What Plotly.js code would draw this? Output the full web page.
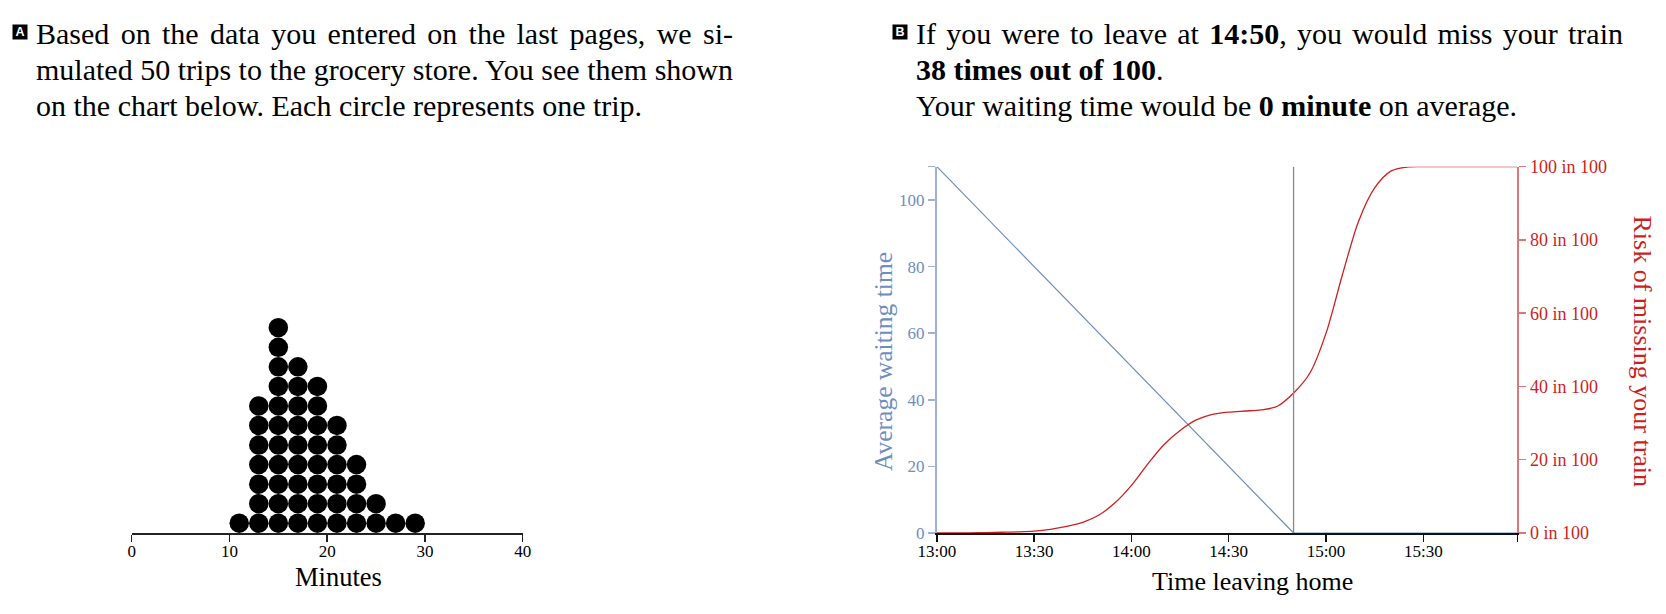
<!DOCTYPE html>
<html>
<head>
<meta charset="utf-8">
<script src="https://cdn.plot.ly/plotly-3.0.1.min.js"></script>
<style>
  html, body { margin: 0; padding: 0; background: #fff; }
  #chart { width: 1666px; height: 614px; }
</style>
</head>
<body>
<div id="chart"></div>
<script>
// ---------- DATA ----------
// Panel A: simulated trips (dot plot), bins of 2 minutes
const binCenters = [11, 13, 15, 17, 19, 21, 23, 25, 27, 29];
const tripCounts = [1, 7, 11, 9, 8, 6, 4, 2, 1, 1];
const binWidth = 2;
const minuteTicks = [0, 10, 20, 30, 40];

// Panel B: risk of missing the train vs time leaving home
const riskTimes = ['13:00','13:05','13:10','13:15','13:20','13:25','13:30','13:35','13:40','13:45',
                   '13:50','13:55','14:00','14:05','14:10','14:15','14:20','14:25','14:30','14:35',
                   '14:40','14:45','14:50','14:55','15:00','15:05','15:10','15:15','15:20','15:25',
                   '15:30','15:35','15:40','15:45','15:50','15:55','15:59'];
const riskValues = [0, 0, 0.05, 0.1, 0.2, 0.3, 0.5, 1.0, 1.8, 2.9,
                    4.9, 8.3, 13.0, 18.8, 24.1, 28.0, 30.9, 32.4, 33.0, 33.3,
                    33.6, 34.6, 38.2, 43.6, 54.5, 70.3, 85.0, 94.2, 98.8, 99.9,
                    100, 100, 100, 100, 100, 100, 100];

// Average waiting time (minutes)
const waitTimes = ['13:00', '14:50', '15:59'];
const waitValues = [110, 0, 0];

const leaveTime = '14:50';
const axisStart = '13:00';
const axisEnd = '15:59';
const timeTicks = ['13:00', '13:30', '14:00', '14:30', '15:00', '15:30'];
const waitTicks = [0, 20, 40, 60, 80, 100];
const waitMax = 110;
const riskTicks = [0, 20, 40, 60, 80, 100];

// Paragraph texts (one entry per printed line)
const textA = [
  'Based on the data you entered on the last pages, we si-',
  'mulated 50 trips to the grocery store. You see them shown',
  'on the chart below. Each circle represents one trip.'
];
const textB = [
  'If you were to leave at <b>14:50</b>, you would miss your train',
  '<b>38 times out of 100</b>.',
  'Your waiting time would be <b>0 minute</b> on average.'
];

// ---------- BUILD ----------
const W = 1666, H = 614;
const px = v => v / W;
const py = v => 1 - v / H;
const day = t => '2000-01-01 ' + t + ':00';

const dotX = [], dotY = [];
binCenters.forEach((c, i) => {
  for (let k = 0; k < tripCounts[i]; k++) {
    dotX.push(c);
    dotY.push(binWidth / 2 + k * binWidth);
  }
});

const serif = 'Liberation Serif, Times New Roman, serif';
const blue = '#6f8dbf';
const blueAxis = '#9db2d6';
const red = '#cc1f1f';
const redAxis = '#d9777a';

const plotTop = 166.7, plotBottom = 533;
const xA0 = 131.7, xA1 = 522.7;
const xB0 = 936.9, xB1 = 1517.3;
const yDom = [py(plotBottom), py(plotTop)];
const dotYMax = (plotBottom - plotTop) / ((xA1 - xA0) / 40);

const traces = [
  {
    x: dotX, y: dotY, xaxis: 'x', yaxis: 'y', type: 'scatter', mode: 'markers',
    marker: { color: '#000', size: 19.5, line: { width: 0 } },
    hoverinfo: 'skip', showlegend: false
  },
  {
    x: waitTimes.map(day), y: waitValues, xaxis: 'x2', yaxis: 'y2', type: 'scatter', mode: 'lines',
    line: { color: blue, width: 1.2 }, hoverinfo: 'skip', showlegend: false
  },
  {
    x: riskTimes.map(day), y: riskValues, xaxis: 'x2', yaxis: 'y3', type: 'scatter', mode: 'lines',
    line: { color: red, width: 1.3, shape: 'spline', smoothing: 0.8 }, hoverinfo: 'skip', showlegend: false
  }
];

const tickFont = { family: serif, size: 17, color: '#000' };

// paragraph annotations
const paraSize = 30;
const lineGap = 36;
const firstLineY = 33.5;
const justifyTargets = {};
const annotations = [];

function addParagraph(letter, boxX, textX, lines, rightEdge, justifiedLines) {
  annotations.push({
    text: letter, xref: 'paper', yref: 'paper', x: px(boxX), y: py(31.5), xanchor: 'center', yanchor: 'middle',
    showarrow: false, bgcolor: '#000', width: 14, height: 14, borderpad: 0,
    font: { family: 'Liberation Sans, Arial, sans-serif', size: 12.5, color: '#fff', weight: 'bold' }
  });
  lines.forEach((ln, i) => {
    annotations.push({
      text: ln, xref: 'paper', yref: 'paper', x: px(textX - 2), y: py(firstLineY + i * lineGap),
      xanchor: 'left', yanchor: 'middle', align: 'left', showarrow: false,
      font: { family: serif, size: paraSize, color: '#000' }
    });
    if (i < justifiedLines) justifyTargets[ln.replace(/<[^>]+>/g, '')] = rightEdge - textX;
  });
}
addParagraph('A', 19.5, 36, textA, 733, 2);
addParagraph('B', 899.5, 916, textB, 1623, 1);

annotations.push(
  { text: 'Minutes', xref: 'paper', yref: 'paper', x: px(338.3), y: py(576.7), xanchor: 'center', yanchor: 'middle',
    showarrow: false, font: { family: serif, size: 26.5, color: '#000' } },
  { text: 'Time leaving home', xref: 'paper', yref: 'paper', x: px(1252.5), y: py(581.7), xanchor: 'center', yanchor: 'middle',
    showarrow: false, font: { family: serif, size: 26, color: '#000' } },
  { text: 'Average waiting time', xref: 'paper', yref: 'paper', x: px(883), y: py(362), xanchor: 'center', yanchor: 'middle',
    textangle: -90, showarrow: false, font: { family: serif, size: 25.5, color: blue } },
  { text: 'Risk of missing your train', xref: 'paper', yref: 'paper', x: px(1642.5), y: py(351), xanchor: 'center', yanchor: 'middle',
    textangle: 90, showarrow: false, font: { family: serif, size: 26, color: red } }
);

const layout = {
  width: W, height: H,
  margin: { l: 0, r: 0, t: 0, b: 0 },
  paper_bgcolor: '#fff', plot_bgcolor: 'rgba(0,0,0,0)',
  showlegend: false,
  xaxis: {
    domain: [px(xA0), px(xA1)], range: [0, 40], anchor: 'y',
    tickvals: minuteTicks, ticktext: minuteTicks.map(String),
    ticks: 'outside', ticklen: 7, tickwidth: 1.5, tickcolor: '#222', ticklabelstandoff: -5,
    showline: true, linecolor: '#222', linewidth: 1.5,
    showgrid: false, zeroline: false, tickfont: tickFont, fixedrange: true
  },
  yaxis: {
    domain: yDom, range: [0, dotYMax], anchor: 'x', visible: false, fixedrange: true
  },
  xaxis2: {
    type: 'date', domain: [px(xB0), px(xB1)], anchor: 'y2',
    range: [day(axisStart), day(axisEnd)],
    tickvals: timeTicks.concat([axisEnd]).map(day),
    ticktext: timeTicks.concat(['']),
    ticks: 'outside', ticklen: 7, tickwidth: 1.5, tickcolor: '#111', ticklabelstandoff: -5,
    showline: true, linecolor: '#111', linewidth: 1.5,
    showgrid: false, zeroline: false, tickfont: tickFont, fixedrange: true
  },
  yaxis2: {
    domain: yDom, anchor: 'x2', side: 'left', range: [0, waitMax],
    tickvals: waitTicks.concat([waitMax]), ticktext: waitTicks.map(String).concat(['']),
    ticks: 'outside', ticklen: 7, tickwidth: 1.5, tickcolor: blueAxis,
    showline: true, linecolor: blueAxis, linewidth: 2,
    showgrid: false, zeroline: false,
    tickfont: { family: serif, size: 17, color: blue }, fixedrange: true
  },
  yaxis3: {
    overlaying: 'y2', anchor: 'x2', side: 'right', range: [0, 100],
    tickvals: riskTicks, ticktext: riskTicks.map(v => v + ' in 100'),
    ticks: 'outside', ticklen: 7, tickwidth: 1.5, tickcolor: redAxis,
    showline: true, linecolor: redAxis, linewidth: 2,
    showgrid: false, zeroline: false,
    tickfont: { family: serif, size: 18, color: red }, fixedrange: true
  },
  shapes: [
    {
      type: 'line', xref: 'x2', yref: 'y2',
      x0: day(leaveTime), x1: day(leaveTime), y0: 0, y1: waitMax,
      line: { color: '#8a8a8a', width: 1.3 }
    }
  ],
  annotations: annotations
};

Plotly.newPlot('chart', traces, layout, { staticPlot: true, displayModeBar: false }).then(() => {
  // justify the full-width paragraph lines by widening the word gaps
  document.querySelectorAll('#chart .annotation-text').forEach(el => {
    const target = justifyTargets[el.textContent];
    if (!target) return;
    try {
      const natural = el.getComputedTextLength();
      const gaps = (el.textContent.match(/ /g) || []).length;
      if (gaps > 0 && target > natural) {
        el.style.wordSpacing = ((target - natural) / gaps) + 'px';
      }
    } catch (e) {}
  });
});
</script>
</body>
</html>
